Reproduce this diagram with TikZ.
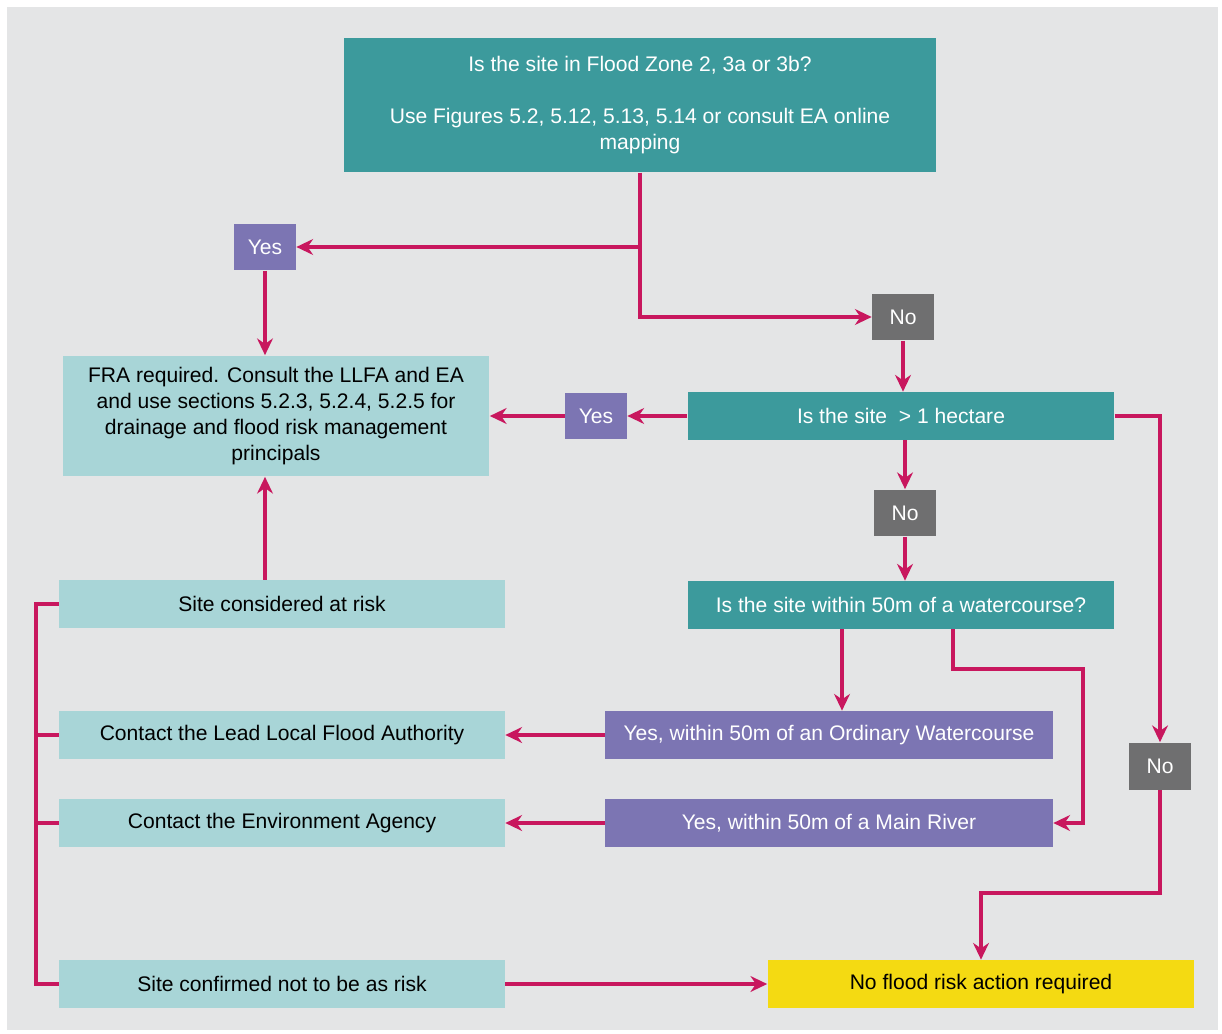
\documentclass[tikz,border=0pt]{standalone}
\usepackage{fontspec}
\setmainfont{Liberation Sans}
\usepackage{tikz}
\usetikzlibrary{positioning, arrows.meta, calc}

\definecolor{panelgray}{HTML}{E4E5E6}
\definecolor{teal}{HTML}{3C9A9C}
\definecolor{paleteal}{HTML}{A8D5D7}
\definecolor{lilac}{HTML}{7C75B3}
\definecolor{slate}{HTML}{6F6F70}
\definecolor{gold}{HTML}{F4DA12}
\definecolor{magenta}{HTML}{C8175E}

\begin{document}
\begin{tikzpicture}[x=0.02cm, y=-0.02cm,
  box/.style={rectangle, inner sep=0pt, align=center,
    font=\fontsize{12}{14.7}\selectfont},
  question/.style={box, fill=teal, text=white, minimum width=8.54cm, minimum height=0.96cm},
  answer/.style={box, fill=lilac, text=white, minimum width=8.96cm, minimum height=0.96cm},
  outcome/.style={box, fill=paleteal, text=black, minimum width=8.92cm, minimum height=0.96cm},
  yesbox/.style={box, fill=lilac, text=white, minimum width=1.24cm, minimum height=0.94cm},
  nobox/.style={box, fill=slate, text=white, minimum width=1.24cm, minimum height=0.94cm},
  link/.style={draw=magenta, line width=2.1pt, -{Stealth[length=9.5pt, width=9pt]}},
  rail/.style={draw=magenta, line width=2.1pt}]

  % Page and panel
  \useasboundingbox (0,0) rectangle (1222,1033);
  \fill[white] (0,0) rectangle (1222,1033);
  \fill[panelgray] (7,7) rectangle (1218,1030);

  % Flood zone question
  \node[question, minimum width=11.84cm, minimum height=2.7cm] (zone) at (640,105)
    {Is the site in Flood Zone 2, 3a or 3b?\\[14.7pt]
     Use Figures 5.2, 5.12, 5.13, 5.14 or consult EA online\\ mapping};
  \node[yesbox] (yes1) at (265,247) {Yes};
  \node[nobox] (no1) at (903,317) {No};

  % FRA result
  \node[outcome, minimum width=8.54cm, minimum height=2.42cm] (fra) at (276,416)
    {FRA required. Consult the LLFA and EA\\ and use sections 5.2.3, 5.2.4, 5.2.5 for\\
     drainage and flood risk management\\ principals};

  % Site area question
  \node[question] (area) at (901,416) {Is the site\ \ > 1 hectare};
  \node[yesbox] (yes2) at (596,416) {Yes};
  \node[nobox] (no2) at (905,513) {No};
  \node[nobox] (no3) at (1160,766) {No};

  % Watercourse question
  \node[question] (water) at (901,605) {Is the site within 50m of a watercourse?};
  \node[answer] (ordinary) at (829,735) {Yes, within 50m of an Ordinary Watercourse};
  \node[answer] (river) at (829,823) {Yes, within 50m of a Main River};

  % Left column
  \node[outcome] (risk) at (282,604) {Site considered at risk};
  \node[outcome] (llfa) at (282,735) {Contact the Lead Local Flood Authority};
  \node[outcome] (ea) at (282,823) {Contact the Environment Agency};
  \node[outcome] (safe) at (282,984) {Site confirmed not to be as risk};

  % No action
  \node[box, fill=gold, minimum width=8.54cm, minimum height=0.96cm] (noaction) at (981,984)
    {No flood risk action required};

  % Helper points
  \coordinate (wa) at (842,629);
  \coordinate (wb) at (953,629);
  \coordinate (wturn) at (1083,669);
  \coordinate (drop) at (981,893);
  \coordinate (railtop) at (36,604);
  \coordinate (railbot) at (36,984);

  % Connectors
  \draw[link] (zone.south) |- (yes1.east);
  \draw[link] (zone.south) |- (no1.west);
  \draw[link] (yes1.south) -- (yes1.south |- fra.north);
  \draw[link] (no1.south) -- (no1.south |- area.north);
  \draw[link] (area.west) -- (yes2.east);
  \draw[link] (yes2.west) -- (yes2.west -| fra.east);
  \draw[link] (area.south -| no2) -- (no2.north);
  \draw[link] (no2.south) -- (no2.south |- water.north);
  \draw[link] (area.east) -| (no3.north);
  \draw[link] (wa) -- (wa |- ordinary.north);
  \draw[link] (wb) |- (wturn) |- (river.east);
  \draw[link] (ordinary.west) -- (ordinary.west -| llfa.east);
  \draw[link] (river.west) -- (river.west -| ea.east);
  \draw[link] (no3.south) |- (drop) -- (noaction.north);
  \draw[link] (risk.north -| yes1) -- (fra.south -| yes1);
  \draw[link] (safe.east) -- (noaction.west);

  % Left rail
  \draw[rail] (risk.west) -- (railtop) -- (railbot) -- (safe.west);
  \draw[rail] (llfa.west) -- (llfa.west -| railtop);
  \draw[rail] (ea.west) -- (ea.west -| railtop);
\end{tikzpicture}
\end{document}
